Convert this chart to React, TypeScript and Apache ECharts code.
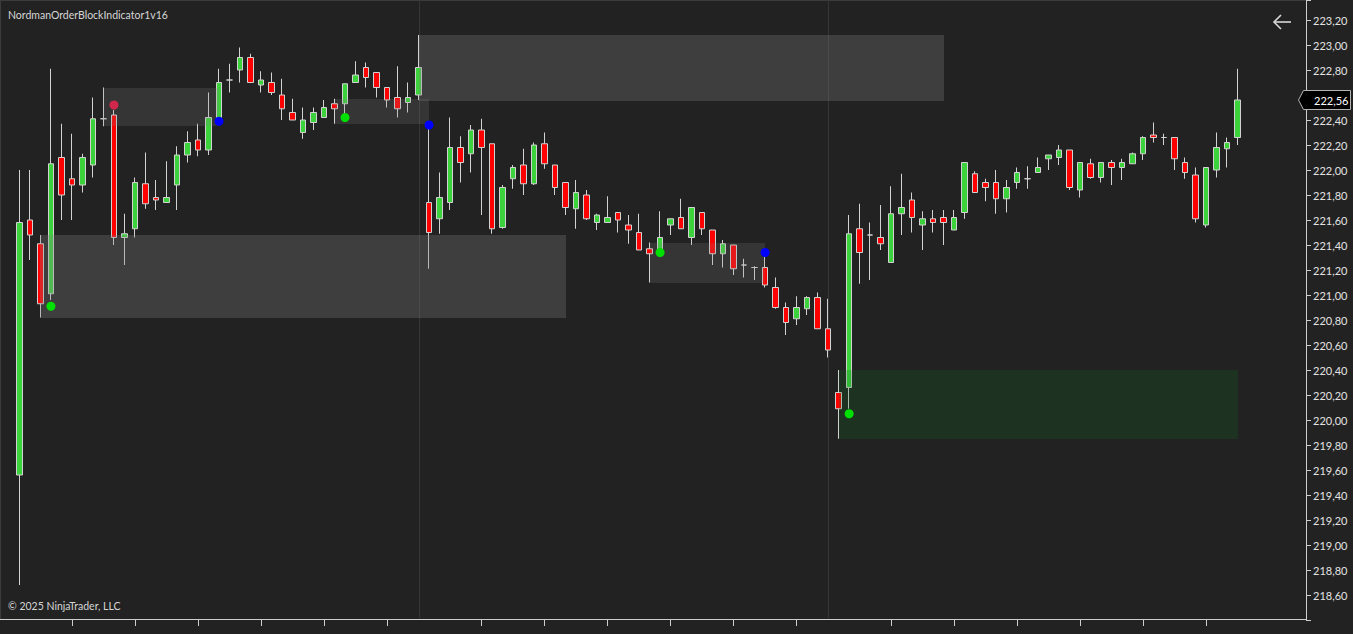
import React, { useEffect, useRef } from "react";
import * as echarts from "echarts";

// ---- candle data (bar index = position) ----
const opens = [
  219.56, 221.6, 221.41, 221.01, 222.1, 221.93, 221.88, 222.04, 222.41, 222.44,
  221.46, 221.53, 221.89, 221.78, 221.74, 221.88, 222.12, 222.24, 222.16, 222.41,
  222.72, 222.8, 222.9, 222.68, 222.7, 222.6, 222.46, 222.3, 222.38, 222.42,
  222.53, 222.53, 222.7, 222.82, 222.78, 222.66, 222.58, 222.54, 222.6, 221.74,
  221.61, 221.74, 222.18, 222.13, 222.32, 222.21, 221.54, 221.93, 222.04, 221.89,
  222.21, 222.04, 221.9, 221.69, 221.8, 221.58, 221.58, 221.66, 221.56, 221.5,
  221.37, 221.36, 221.56, 221.62, 221.46, 221.66, 221.52, 221.33, 221.4, 221.24,
  221.22, 221.22, 221.06, 220.9, 220.81, 220.89, 220.98, 220.73, 220.22, 220.26,
  221.53, 221.48, 221.46, 221.26, 221.65, 221.76, 221.56, 221.61, 221.62, 221.52,
  221.66, 221.97, 221.9, 221.9, 221.77, 221.9, 221.93, 221.98, 222.09, 222.1,
  222.16, 221.84, 222.05, 221.94, 222.06, 222.02, 222.05, 222.13, 222.28, 222.26,
  222.26, 222.06, 221.96, 221.56, 222.0, 222.17, 222.26,
];
const closes = [
  221.58, 221.48, 220.93, 222.05, 221.8, 221.88, 222.1, 222.41, 222.41, 221.46,
  221.49, 221.9, 221.73, 221.76, 221.78, 222.12, 222.22, 222.16, 222.42, 222.7,
  222.72, 222.9, 222.7, 222.72, 222.62, 222.49, 222.4, 222.4, 222.46, 222.5,
  222.49, 222.69, 222.76, 222.74, 222.66, 222.56, 222.49, 222.58, 222.82, 221.5,
  221.78, 222.18, 222.06, 222.32, 222.18, 221.53, 221.86, 222.02, 221.89, 222.2,
  222.05, 221.86, 221.7, 221.82, 221.61, 221.64, 221.62, 221.6, 221.52, 221.36,
  221.33, 221.46, 221.61, 221.53, 221.7, 221.53, 221.33, 221.41, 221.21, 221.24,
  221.22, 221.08, 220.9, 220.78, 220.9, 220.98, 220.73, 220.56, 220.09, 221.49,
  221.34, 221.48, 221.41, 221.65, 221.7, 221.62, 221.61, 221.58, 221.58, 221.62,
  222.06, 221.82, 221.86, 221.77, 221.86, 221.98, 221.93, 222.02, 222.12, 222.16,
  221.86, 222.06, 221.94, 222.06, 222.02, 222.06, 222.13, 222.26, 222.26, 222.26,
  222.09, 221.98, 221.61, 222.02, 222.18, 222.22, 222.56,
];
const lows = [
  218.68, 221.28, 220.82, 220.96, 221.6, 221.6, 221.82, 221.94, 222.35, 221.4,
  221.24, 221.46, 221.69, 221.68, 221.74, 221.68, 222.06, 222.11, 222.12, 222.38,
  222.62, 222.7, 222.7, 222.62, 222.6, 222.4, 222.4, 222.25, 222.32, 222.42,
  222.37, 222.45, 222.7, 222.66, 222.58, 222.5, 222.42, 222.46, 222.56, 221.21,
  221.49, 221.68, 221.9, 221.98, 221.64, 221.49, 221.53, 221.85, 221.8, 221.88,
  222.01, 221.8, 221.64, 221.53, 221.6, 221.52, 221.58, 221.5, 221.41, 221.36,
  221.1, 221.33, 221.48, 221.53, 221.4, 221.48, 221.24, 221.22, 221.16, 221.14,
  221.12, 221.06, 220.89, 220.68, 220.76, 220.84, 220.73, 220.5, 219.85, 220.09,
  221.09, 221.12, 221.36, 221.26, 221.48, 221.5, 221.36, 221.5, 221.4, 221.52,
  221.61, 221.82, 221.75, 221.65, 221.66, 221.85, 221.85, 221.98, 222.0, 222.04,
  221.84, 221.78, 221.93, 221.9, 221.88, 221.92, 222.05, 222.08, 222.22, 222.2,
  222.0, 221.93, 221.58, 221.54, 221.94, 222.02, 222.2,
];
const highs = [
  222.0, 222.0, 221.48, 222.81, 222.37, 222.29, 222.13, 222.58, 222.66, 222.48,
  221.65, 221.94, 222.14, 221.92, 222.07, 222.19, 222.31, 222.37, 222.62, 222.81,
  222.85, 222.98, 222.93, 222.79, 222.78, 222.73, 222.57, 222.5, 222.5, 222.56,
  222.57, 222.69, 222.87, 222.86, 222.78, 222.66, 222.83, 222.7, 223.08, 222.34,
  221.98, 222.42, 222.27, 222.36, 222.41, 222.21, 221.88, 222.04, 222.17, 222.22,
  222.3, 222.04, 221.9, 221.92, 221.84, 221.65, 221.79, 221.66, 221.64, 221.65,
  221.42, 221.67, 221.61, 221.77, 221.7, 221.66, 221.52, 221.44, 221.4, 221.29,
  221.23, 221.31, 221.14, 220.94, 220.99, 220.99, 221.02, 220.97, 220.4, 221.64,
  221.73, 221.58, 221.72, 221.87, 221.97, 221.82, 221.67, 221.68, 221.68, 221.68,
  222.06, 221.99, 221.93, 222.0, 221.92, 222.02, 222.03, 222.1, 222.12, 222.2,
  222.16, 222.06, 222.09, 222.06, 222.08, 222.09, 222.14, 222.27, 222.38, 222.29,
  222.26, 222.1, 222.02, 222.02, 222.3, 222.26, 222.81,
];

// total bar slots on the x axis (last bars are empty right margin)
const TOTAL_SLOTS = 123;
const xTickBars = [5, 11, 17, 23, 29, 35, 44, 50, 56, 62, 68, 74, 83, 89, 95, 101, 107, 113];
const sessionBreakBars = [38, 77];

// order blocks
const obStart = [2, 8, 38, 30, 60, 78];
const obEnd = [52, 19, 88, 39, 71, 116];
const obTop = [221.48, 222.66, 223.08, 222.57, 221.42, 220.4];
const obBottom = [220.82, 222.35, 222.55, 222.37, 221.1, 219.85];
const obKind = ["light", "dark", "light", "dark", "dark", "bull"];

// signal dots
const dotBars = [3, 9, 19, 31, 39, 61, 71, 79];
const dotPrices = [220.91, 222.52, 222.39, 222.42, 222.36, 221.34, 221.34, 220.05];
const dotKinds = ["bull", "bear", "blue", "bull", "blue", "bull", "blue", "bull"];

const Y_MIN = 218.4;
const Y_MAX = 223.36;
const Y_STEP = 0.2;

const TITLE = "NordmanOrderBlockIndicator1v16";
const COPYRIGHT = "\u00A9 2025 NinjaTrader, LLC";

const FONT = "Lato, 'Noto Sans', sans-serif";
const OB_FILL: Record<string, string> = {
  light: "rgba(128,128,128,0.30)",
  dark: "rgba(128,128,128,0.20)",
  bull: "rgba(20,110,30,0.22)",
};
const DOT_COLOR: Record<string, string> = {
  bull: "#00e000",
  bear: "#d0284c",
  blue: "#0000ff",
};

const W = 1353;
const H = 634;
const PLOT_RIGHT = 1306;
const PLOT_BOTTOM = 620;

export default function App() {
  const ref = useRef<HTMLDivElement>(null);

  useEffect(() => {
    document.body.style.margin = "0";
    document.body.style.background = "#222222";
    if (!ref.current) return;
    const chart = echarts.init(ref.current, null, { renderer: "svg" });

    const categories = Array.from({ length: TOTAL_SLOTS }, (_, i) => String(i));
    const candleData = opens.map((o, i) => [o, closes[i], lows[i], highs[i]]);
    const lastClose = closes[closes.length - 1];

    const option: any = {
      animation: false,
      backgroundColor: "#222222",
      grid: { left: 14.18, right: W - PLOT_RIGHT, top: 0, bottom: H - PLOT_BOTTOM },
      xAxis: {
        type: "category",
        data: categories,
        boundaryGap: true,
        axisLine: { show: false },
        axisLabel: { show: false },
        axisTick: {
          show: true,
          alignWithLabel: true,
          length: 6,
          interval: (index: number) => xTickBars.includes(index),
          lineStyle: { color: "#cfcfcf", width: 1 },
        },
        splitLine: { show: false },
      },
      yAxis: {
        type: "value",
        position: "right",
        min: Y_MIN,
        max: Y_MAX,
        interval: Y_STEP,
        axisLine: { show: true, lineStyle: { color: "#cfcfcf", width: 1 } },
        axisTick: { show: true, length: 5, lineStyle: { color: "#cfcfcf" } },
        axisLabel: {
          color: "#e2e2e2",
          fontSize: 11,
          fontFamily: FONT,
          margin: 7,
          formatter: (v: number) =>
            v < Y_MIN + 0.05 || v > Y_MAX - 0.1 || Math.abs(v - lastClose) < 0.12
              ? ""
              : v.toFixed(2).replace(".", ","),
        },
        splitLine: { show: false },
      },
      series: [
        {
          type: "custom",
          name: "sessions",
          z: 1,
          silent: true,
          data: sessionBreakBars.map((b) => [b, Y_MIN]),
          renderItem: (params: any, api: any) => {
            const p = api.coord([api.value(0), api.value(1)]);
            const cs = params.coordSys;
            const x = Math.round(p[0]) + 0.5;
            return {
              type: "line",
              shape: { x1: x, y1: 0, x2: x, y2: cs.y + cs.height - 2 },
              style: { stroke: "#363636", lineWidth: 1 },
            };
          },
        },
        {
          type: "candlestick",
          z: 2,
          barWidth: 6,
          data: candleData,
          itemStyle: {
            color: "#3cd23c",
            color0: "#ff0000",
            borderColor: "#d2d2d2",
            borderColor0: "#d2d2d2",
            borderColorDoji: "#d2d2d2",
            borderWidth: 1,
          },
        },
        {
          type: "custom",
          name: "orderBlocks",
          z: 3,
          silent: true,
          data: obStart.map((s, i) => [s, obTop[i], obEnd[i], obBottom[i], i]),
          renderItem: (params: any, api: any) => {
            const p1 = api.coord([api.value(0), api.value(1)]);
            const p2 = api.coord([api.value(2), api.value(3)]);
            const kind = obKind[api.value(4)];
            return {
              type: "rect",
              shape: {
                x: Math.round(p1[0]),
                y: Math.round(p1[1]),
                width: Math.round(p2[0]) - Math.round(p1[0]),
                height: Math.round(p2[1]) - Math.round(p1[1]),
              },
              style: { fill: OB_FILL[kind] },
            };
          },
        },
        {
          type: "scatter",
          z: 4,
          silent: true,
          symbolSize: 9,
          itemStyle: { opacity: 1 },
          data: dotBars.map((b, i) => ({
            value: [b, dotPrices[i]],
            itemStyle: { color: DOT_COLOR[dotKinds[i]], opacity: 1 },
          })),
        },
      ],
    };
    chart.setOption(option);

    const ly = Math.round(chart.convertToPixel({ yAxisIndex: 0 }, lastClose) as number);

    chart.setOption({
      graphic: [
        { type: "line", silent: true, shape: { x1: 0.5, y1: 0, x2: 0.5, y2: PLOT_BOTTOM }, style: { stroke: "#3c3c3c", lineWidth: 1 } },
        { type: "line", silent: true, shape: { x1: 0, y1: 0.5, x2: PLOT_RIGHT, y2: 0.5 }, style: { stroke: "#3c3c3c", lineWidth: 1 } },
        { type: "line", silent: true, shape: { x1: 0, y1: PLOT_BOTTOM - 0.5, x2: PLOT_RIGHT, y2: PLOT_BOTTOM - 0.5 }, style: { stroke: "#cfcfcf", lineWidth: 1 } },
        {
          type: "text", silent: true, left: 8, top: 9,
          style: { text: TITLE, fill: "#d6d6d6", font: `10.5px ${FONT}` },
        },
        {
          type: "text", silent: true, left: 8, top: 600,
          style: { text: COPYRIGHT, fill: "#d6d6d6", font: `10.5px ${FONT}` },
        },
        {
          type: "polyline", silent: true,
          shape: { points: [[1281, 15], [1274, 22], [1281, 29]] },
          style: { stroke: "#d8d8d8", lineWidth: 1.6, fill: "none" },
        },
        {
          type: "line", silent: true,
          shape: { x1: 1274, y1: 22, x2: 1291, y2: 22 },
          style: { stroke: "#d8d8d8", lineWidth: 1.6 },
        },
        {
          type: "polygon", silent: true, z: 100,
          shape: { points: [[1298.5, ly], [1303.5, ly - 9.5], [1350.5, ly - 9.5], [1350.5, ly + 9.5], [1303.5, ly + 9.5]] },
          style: { fill: "#000000", stroke: "#b4b4b4", lineWidth: 1 },
        },
        {
          type: "text", silent: true, z: 101, x: 1314, y: ly,
          style: { text: lastClose.toFixed(2).replace(".", ","), fill: "#ffffff", font: `11px ${FONT}`, verticalAlign: "middle" },
        },
      ],
    });

    return () => chart.dispose();
  }, []);

  return (
    <div
      ref={ref}
      style={{ position: "absolute", left: 0, top: 0, width: W, height: H, background: "#222222" }}
    />
  );
}
